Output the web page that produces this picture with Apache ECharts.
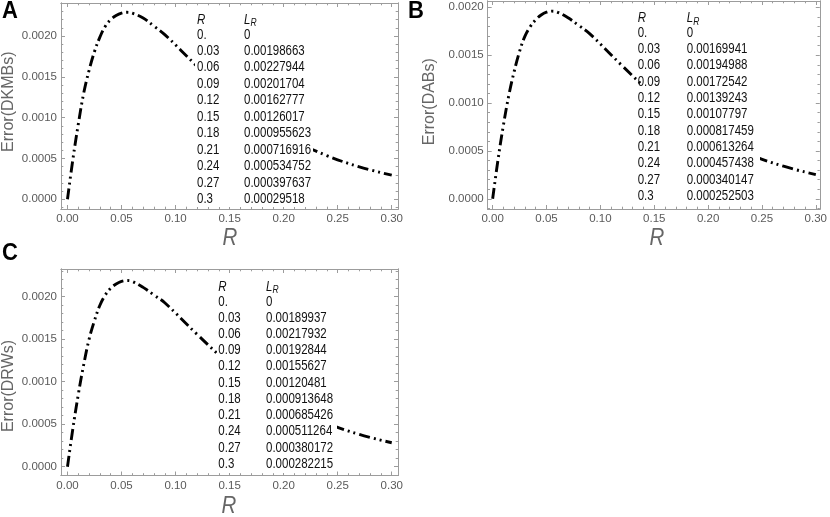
<!DOCTYPE html>
<html>
<head>
<meta charset="utf-8">
<script src="https://cdn.jsdelivr.net/npm/echarts@6/dist/echarts.min.js"></script>
<style>
html, body { margin: 0; padding: 0; background: #fff; }
#main { width: 830px; height: 517px; }
</style>
</head>
<body>
<div id="main"></div>
<script>
// table values (R and L_R for each method)
var R_TABLE = [0, 0.03, 0.06, 0.09, 0.12, 0.15, 0.18, 0.21, 0.24, 0.27, 0.3];
var L_DKMB = [0, 0.00198663, 0.00227944, 0.00201704, 0.00162777, 0.00126017, 0.000955623, 0.000716916, 0.000534752, 0.000397637, 0.00029518];
var L_DAB  = [0, 0.00169941, 0.00194988, 0.00172542, 0.00139243, 0.00107797, 0.000817459, 0.000613264, 0.000457438, 0.000340147, 0.000252503];
var L_DRW  = [0, 0.00189937, 0.00217932, 0.00192844, 0.00155627, 0.00120481, 0.000913648, 0.000685426, 0.000511264, 0.000380172, 0.000282215];

// extra curve points
var R_READ    = [0.005, 0.01, 0.015, 0.02, 0.025, 0.035, 0.04, 0.045, 0.05, 0.055, 0.07, 0.08];
var READ_DKMB = [0.00049, 0.00092, 0.0013, 0.00158, 0.00181, 0.00212, 0.0022, 0.00225, 0.00228, 0.00229, 0.00222, 0.00212];
var READ_DAB  = [0.00041, 0.00077, 0.00108, 0.00133, 0.00154, 0.0018, 0.00187, 0.00192, 0.00195, 0.00196, 0.00189, 0.00181];
var READ_DRW  = [0.00045, 0.00085, 0.0012, 0.0015, 0.00172, 0.00202, 0.0021, 0.00215, 0.00218, 0.00219, 0.00211, 0.00202];

var X_TICKS = [0, 0.05, 0.1, 0.15, 0.2, 0.25, 0.3];
var Y_TICKS = [0, 0.0005, 0.001, 0.0015, 0.002];

var FRAME = '#9c9c9c';
var LABEL = '#5a5a5a';
var SANS = '"Liberation Sans", Arial, sans-serif';
var STRETCH = 1.2; // the picture is taller than wide, so text is stretched vertically

var panels = [
    {letter: 'A', yName: 'Error(DKMBs)', L: L_DKMB, read: READ_DKMB,
     grid: {left: 61, top: 3, width: 337, height: 206},
     x: [-0.006, 0.3058], y: [-0.000119, 0.002404],
     letterPos: [2, 12], yNamePos: [8.3, 101.7], rPos: [230, 238],
     table: {left: 195, right: 313, top: 10, bottom: 207, rx: 197, lx: 244, hy: 20, y0: 34.7, dy: 16.46}},
    {letter: 'B', yName: 'Error(DABs)', L: L_DAB, read: READ_DAB,
     grid: {left: 487.7, top: 1, width: 335.6, height: 208},
     x: [-0.0046, 0.3037], y: [-0.0001065, 0.002066],
     letterPos: [408, 12], yNamePos: [430, 101.7], rPos: [657, 238],
     table: {left: 641, right: 760, top: 8, bottom: 205, rx: 637.7, lx: 686.7, hy: 18.3, y0: 33, dy: 16.3}},
    {letter: 'C', yName: 'Error(DRWs)', L: L_DRW, read: READ_DRW,
     grid: {left: 61, top: 269, width: 337, height: 206.5},
     x: [-0.006, 0.3058], y: [-0.0001035, 0.002326],
     letterPos: [2, 254], yNamePos: [8.3, 386], rPos: [229, 506.5],
     table: {left: 217, right: 337, top: 277, bottom: 473, rx: 218.3, lx: 266, hy: 286.7, y0: 301.7, dy: 16.23}}
];

function minorTicks(majors, step, lo, hi) {
    var out = [];
    var n = Math.round((hi - lo) / step);
    for (var i = 0; i <= n; i++) {
        var v = +(lo + i * step).toFixed(6);
        var isMajor = majors.some(function (m) { return Math.abs(m - v) < 1e-9; });
        if (!isMajor) out.push(v);
    }
    return out;
}

function frameAxis(gi, pos, range, ticks, len, fmt) {
    return {
        type: 'value', gridIndex: gi, position: pos,
        min: range[0], max: range[1],
        axisLine: {show: true, onZero: false, lineStyle: {color: FRAME, width: 1}},
        axisTick: {show: true, inside: true, length: len, customValues: ticks, lineStyle: {color: FRAME, width: 1}},
        axisLabel: fmt ? {show: true, customValues: ticks, formatter: fmt, margin: 4,
                          color: LABEL, fontFamily: SANS, fontSize: 11.5} : {show: false},
        splitLine: {show: false}
    };
}

function stretchedText(x, y, text, font, fill, align, sy) {
    return {type: 'text', z: 101, x: x, y: y, scaleY: sy || STRETCH,
        style: {text: text, font: font, fill: fill, align: align || 'left', verticalAlign: 'middle'}};
}

var xAxes = [], yAxes = [], series = [], graphics = [];

panels.forEach(function (p, gi) {
    var xMinor = minorTicks(X_TICKS, 0.01, 0, 0.3);
    var yMinor = minorTicks(Y_TICKS, 0.0001, -0.0001, Math.floor(p.y[1] * 10000) / 10000);
    var fx = function (v) { return v.toFixed(2); };
    var fy = function (v) { return v.toFixed(4); };

    var xi = xAxes.length, yi = yAxes.length;
    xAxes.push(frameAxis(gi, 'bottom', p.x, X_TICKS, 4, fx),
        frameAxis(gi, 'bottom', p.x, xMinor, 2.3),
        frameAxis(gi, 'top', p.x, X_TICKS, 4),
        frameAxis(gi, 'top', p.x, xMinor, 2.3));
    yAxes.push(frameAxis(gi, 'left', p.y, Y_TICKS, 4, fy),
        frameAxis(gi, 'left', p.y, yMinor, 2.3),
        frameAxis(gi, 'right', p.y, Y_TICKS, 4),
        frameAxis(gi, 'right', p.y, yMinor, 2.3));

    // curve: table points plus points
    var pts = R_TABLE.map(function (r, i) { return [r, p.L[i]]; })
        .concat(R_READ.map(function (r, i) { return [r, p.read[i]]; }));
    pts.sort(function (a, b) { return a[0] - b[0]; });

    series.push({
        type: 'line', xAxisIndex: xi, yAxisIndex: yi,
        data: pts, showSymbol: false, smooth: 0.4,
        lineStyle: {color: '#000', width: 2.9, type: [11, 4, 2, 4, 2, 4], cap: 'butt'},
        z: 2, silent: true
    });

    // table inset with white background
    var t = p.table;
    graphics.push({type: 'rect', z: 100,
        shape: {x: t.left, y: t.top, width: t.right - t.left, height: t.bottom - t.top},
        style: {fill: '#fff'}});
    var tf = '11.5px ' + SANS;
    var ink = '#111';
    graphics.push(stretchedText(t.rx, t.hy, 'R', 'italic ' + tf, ink));
    graphics.push(stretchedText(t.lx, t.hy, 'L', 'italic ' + tf, ink));
    graphics.push(stretchedText(t.lx + 6.6, t.hy + 3.5, 'R', 'italic 8.5px ' + SANS, ink));
    R_TABLE.forEach(function (r, i) {
        var y = t.y0 + i * t.dy;
        graphics.push(stretchedText(t.rx, y, r === 0 ? '0.' : String(r), tf, ink));
        graphics.push(stretchedText(t.lx, y, String(p.L[i]), tf, ink));
    });

    // axis titles and panel letter
    graphics.push(stretchedText(p.rPos[0], p.rPos[1], 'R', 'italic 20.5px ' + SANS, '#666', 'center'));
    graphics.push({type: 'text', z: 101, x: p.yNamePos[0], y: p.yNamePos[1], rotation: Math.PI / 2,
        style: {text: p.yName, font: '16px ' + SANS, fill: '#666',
                align: 'center', verticalAlign: 'middle'}});
    graphics.push(stretchedText(p.letterPos[0], p.letterPos[1], p.letter, 'bold 22px ' + SANS, '#000', 'left', 1.05));
});

var chart = echarts.init(document.getElementById('main'));
chart.setOption({
    animation: false,
    backgroundColor: '#fff',
    grid: panels.map(function (p) { return p.grid; }),
    xAxis: xAxes,
    yAxis: yAxes,
    series: series,
    graphic: graphics
});
</script>
</body>
</html>
